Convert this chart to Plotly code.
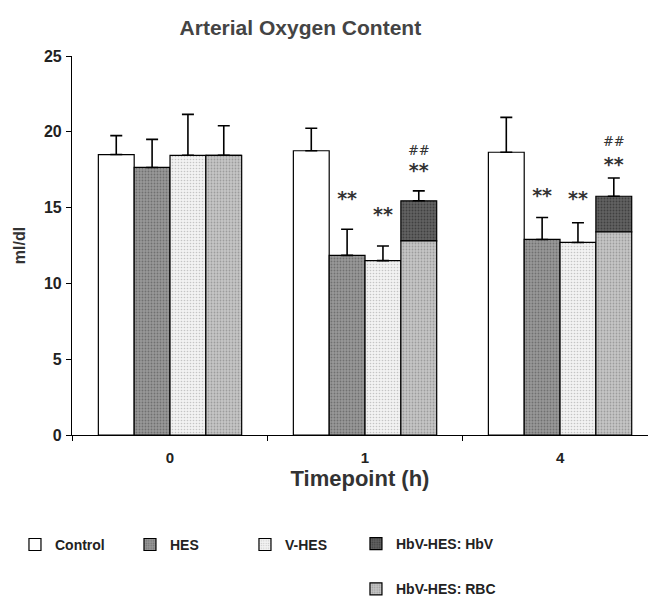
import plotly.graph_objects as go

# ---- data ----
timepoints = ["0", "1", "4"]
control = [18.5, 18.75, 18.65]
control_sd = [1.25, 1.48, 2.3]
hes = [17.65, 11.85, 12.9]
hes_sd = [1.85, 1.72, 1.45]
vhes = [18.45, 11.5, 12.7]
vhes_sd = [2.7, 0.97, 1.3]
hbvhes_rbc = [18.45, 12.8, 13.4]
hbvhes_hbv = [0.0, 2.65, 2.35]
hbvhes_sd = [1.95, 0.65, 1.2]

# significance marks (y position of the mark)
hes_sig = [None, 15.5, 15.7]
vhes_sig = [None, 14.4, 15.5]
hbvhes_sig = [None, 17.3, 17.7]
hbvhes_hash = [None, 18.7, 19.25]

FONT = "Liberation Sans"
LINE = dict(color="black", width=1.2)


def err(sd):
    return dict(type="data", array=sd, arrayminus=[0] * len(sd), symmetric=False,
                color="black", thickness=1.6, width=6)


def pat(bg, fg, solidity):
    return dict(shape=".", bgcolor=bg, fgcolor=fg, size=3, solidity=solidity, fillmode="replace")


fig = go.Figure()
fig.add_trace(go.Bar(x=timepoints, y=control, name="Control", offsetgroup="ctrl",
                     marker=dict(color="white", line=LINE), error_y=err(control_sd), legend="legend"))
fig.add_trace(go.Bar(x=timepoints, y=hes, name="HES", offsetgroup="hes",
                     marker=dict(color="#8e8e8e", line=LINE, pattern=pat("#999999", "#707070", 0.3)),
                     error_y=err(hes_sd), legend="legend"))
fig.add_trace(go.Bar(x=timepoints, y=vhes, name="V-HES", offsetgroup="vhes",
                     marker=dict(color="#ececec", line=LINE, pattern=pat("#f2f2f2", "#c4c4c4", 0.22)),
                     error_y=err(vhes_sd), legend="legend"))
fig.add_trace(go.Bar(x=timepoints, y=hbvhes_hbv, base=hbvhes_rbc, name="HbV-HES: HbV", offsetgroup="hbv",
                     marker=dict(color="#5a5a5a", line=LINE, pattern=pat("#626262", "#404040", 0.3)),
                     error_y=err(hbvhes_sd), legend="legend2", legendgroup="hbv"))
fig.add_trace(go.Bar(x=timepoints, y=hbvhes_rbc, name="HbV-HES: RBC", offsetgroup="hbv",
                     marker=dict(color="#c0c0c0", line=LINE, pattern=pat("#c6c6c6", "#9c9c9c", 0.28)),
                     legend="legend2", legendgroup="rbc"))

# significance text marks, grouped like the bars
star_font = dict(family="DejaVu Sans", size=19, color="#333333", weight="bold")
hash_font = dict(family="DejaVu Serif", size=13, color="#333333")
fig.add_trace(go.Scatter(x=timepoints, y=control, text=["", "", ""], mode="text",
                         offsetgroup="ctrl", showlegend=False, hoverinfo="skip"))
fig.add_trace(go.Scatter(x=timepoints, y=hes_sig, text=["**"] * 3, mode="text", textfont=star_font,
                         textposition="middle center",
                         offsetgroup="hes", showlegend=False, hoverinfo="skip"))
fig.add_trace(go.Scatter(x=timepoints, y=vhes_sig, text=["**"] * 3, mode="text", textfont=star_font,
                         textposition="middle center",
                         offsetgroup="vhes", showlegend=False, hoverinfo="skip"))
fig.add_trace(go.Scatter(x=timepoints, y=hbvhes_sig, text=["**"] * 3, mode="text", textfont=star_font,
                         textposition="middle center",
                         offsetgroup="hbv", showlegend=False, hoverinfo="skip"))
fig.add_trace(go.Scatter(x=timepoints, y=hbvhes_hash, text=["<i>##</i>"] * 3, mode="text", textfont=hash_font,
                         offsetgroup="hbv", showlegend=False, hoverinfo="skip"))

legend_font = dict(family=FONT, size=14, color="#222222", weight="bold")

fig.update_layout(
    width=653, height=597,
    margin=dict(l=72, r=5, t=56, b=162, autoexpand=False),
    paper_bgcolor="white", plot_bgcolor="white",
    barmode="group", bargap=0.265, bargroupgap=0, scattermode="group",
    font=dict(family=FONT, color="#222222"),
    title=dict(text="<b>Arterial Oxygen Content</b>", x=0.46, xanchor="center", xref="container",
               y=1 - 28 / 597, yanchor="middle", font=dict(family=FONT, size=21, color="#444444")),
    xaxis=dict(type="category", range=[-0.5026, 2.451], showline=True, linecolor="black", linewidth=1.2,
               ticks="outside", tickson="boundaries", ticklen=5, tickcolor="black", ticklabelstandoff=9,
               tickfont=dict(family=FONT, size=15, color="#222222", weight="bold"),
               showgrid=False, zeroline=False,
               title=dict(text="<b>Timepoint (h)</b>", font=dict(family=FONT, size=22, color="#333333"), standoff=5)),
    yaxis=dict(range=[0, 25], tickvals=[0, 5, 10, 15, 20, 25], showline=True, linecolor="black", linewidth=1.2,
               ticks="outside", ticklen=5, tickcolor="black", showgrid=False, zeroline=False,
               ticklabelstandoff=1,
               tickfont=dict(family=FONT, size=16, color="#222222", weight="bold"),
               title=dict(text="<b>ml/dl</b>", font=dict(family=FONT, size=16, color="#333333"), standoff=14)),
    legend=dict(orientation="h", font=legend_font, entrywidth=70, entrywidthmode="pixels", itemwidth=30,
                bgcolor="rgba(0,0,0,0)", xanchor="left", yanchor="middle", traceorder="normal",
                x=-0.099, y=-0.29),
    legend2=dict(orientation="v", font=legend_font, itemwidth=30, tracegroupgap=24,
                 bgcolor="rgba(0,0,0,0)", xanchor="left", yanchor="middle", traceorder="grouped",
                 x=0.493, y=-0.347),
)

fig.write_html("out.html")
